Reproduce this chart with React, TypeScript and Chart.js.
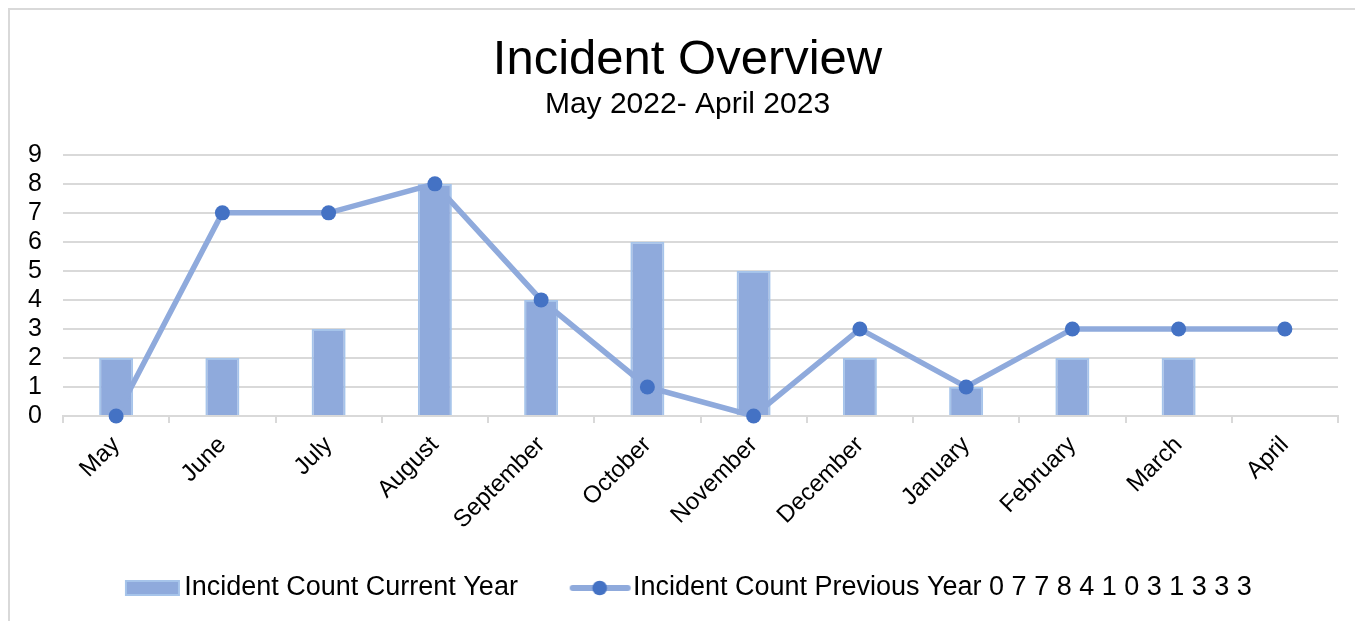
import React, { useEffect, useRef } from 'react';
import { Chart, registerables } from 'chart.js';

Chart.register(...registerables);

const months = ['May', 'June', 'July', 'August', 'September', 'October', 'November', 'December', 'January', 'February', 'March', 'April'];
const currentYear: (number | null)[] = [2, 2, 3, 8, 4, 6, 5, 2, 1, 2, 2, null];
const previousYear: number[] = [0, 7, 7, 8, 4, 1, 0, 3, 1, 3, 3, 3];
const yMin = 0;
const yMax = 9;
const yStep = 1;
const titleText = 'Incident Overview';
const subtitleText = 'May 2022- April 2023';
const currentName = 'Incident Count Current Year';
const previousName = 'Incident Count Previous Year 0 7 7 8 4 1 0 3 1 3 3 3';

const FONT = '"Liberation Sans", Arial, sans-serif';
const BAR_FILL = '#8faadc';
const BAR_BORDER = '#a6c4ea';
const LINE_COLOR = '#8faadc';
const POINT_COLOR = '#4472c4';
const GRID = '#d9d9d9';

function makeBarSymbol(): HTMLCanvasElement {
  const c = document.createElement('canvas');
  c.width = 68;
  c.height = 18;
  const ctx = c.getContext('2d')!;
  ctx.fillStyle = BAR_FILL;
  ctx.fillRect(13, 2, 53, 14);
  ctx.strokeStyle = BAR_BORDER;
  ctx.lineWidth = 2;
  ctx.strokeRect(13, 2, 53, 14);
  return c;
}

function makeLineSymbol(): HTMLCanvasElement {
  const c = document.createElement('canvas');
  c.width = 72;
  c.height = 18;
  const ctx = c.getContext('2d')!;
  ctx.strokeStyle = LINE_COLOR;
  ctx.lineWidth = 6;
  ctx.lineCap = 'round';
  ctx.beginPath();
  ctx.moveTo(13, 9);
  ctx.lineTo(68, 9);
  ctx.stroke();
  ctx.fillStyle = POINT_COLOR;
  ctx.beginPath();
  ctx.arc(40, 9, 7.3, 0, Math.PI * 2);
  ctx.fill();
  return c;
}

export default function App() {
  const canvasRef = useRef<HTMLCanvasElement | null>(null);

  useEffect(() => {
    if (!canvasRef.current) return;
    const barSym = makeBarSymbol();
    const lineSym = makeLineSymbol();
    const chart = new Chart(canvasRef.current, {
      type: 'bar',
      data: {
        labels: months,
        datasets: [
          {
            type: 'line',
            label: previousName,
            data: previousYear,
            borderColor: LINE_COLOR,
            backgroundColor: LINE_COLOR,
            borderWidth: 5.5,
            pointRadius: 7.5,
            pointBackgroundColor: POINT_COLOR,
            pointBorderColor: POINT_COLOR,
            pointBorderWidth: 0,
            tension: 0,
            order: 0,
            clip: false,
          } as any,
          {
            type: 'bar',
            label: currentName,
            data: currentYear,
            backgroundColor: BAR_FILL,
            borderColor: BAR_BORDER,
            borderWidth: 2,
            barPercentage: 0.32,
            categoryPercentage: 1,
            order: 1,
          } as any,
        ],
      },
      options: {
        responsive: false,
        animation: false,
        devicePixelRatio: 1,
        layout: { padding: { top: 0, left: 0, right: 0, bottom: 9.5 } },
        scales: {
          x: {
            offset: true,
            grid: {
              offset: true,
              drawOnChartArea: false,
              drawTicks: true,
              tickLength: 7,
              color: GRID,
              lineWidth: 2,
            },
            border: { display: true, color: GRID, width: 2 },
            ticks: {
              autoSkip: false,
              minRotation: 45,
              maxRotation: 45,
              padding: 8,
              color: '#000',
              font: { family: FONT, size: 24 },
            },
            afterFit: (s: any) => {
              s.height = 104.5;
              // let rotated labels run past the axis box, as in the reference
              s._computeLabelArea = () => undefined;
            },
          },
          y: {
            position: 'left',
            min: yMin,
            max: yMax,
            ticks: {
              stepSize: yStep,
              autoSkip: false,
              padding: 21,
              color: '#000',
              font: { family: FONT, size: 25 },
            },
            grid: { color: GRID, lineWidth: 2, drawTicks: false },
            border: { display: false },
            afterFit: (s: any) => {
              s.width = 53;
            },
          },
          yRight: {
            position: 'right',
            display: true,
            min: yMin,
            max: yMax,
            ticks: { display: false },
            grid: { display: false, drawOnChartArea: false, drawTicks: false },
            border: { display: false },
            afterFit: (s: any) => {
              s.width = 27;
            },
          },
        },
        plugins: {
          title: {
            display: true,
            text: titleText,
            color: '#000',
            font: { family: FONT, size: 49, weight: 'normal' },
            padding: { top: 21, bottom: 0 },
          },
          subtitle: {
            display: true,
            text: subtitleText,
            color: '#000',
            font: { family: FONT, size: 30, weight: 'normal', lineHeight: 1.0 },
            padding: { top: 0, bottom: 35 },
          },
          legend: {
            position: 'bottom',
            labels: {
              usePointStyle: true,
              pointStyleWidth: 47.5,
              boxWidth: 47.5,
              boxHeight: 27,
              padding: 54,
              color: '#000',
              font: { family: FONT, size: 27 },
              generateLabels: () => [
                {
                  text: currentName,
                  pointStyle: barSym,
                  fillStyle: BAR_FILL,
                  strokeStyle: BAR_BORDER,
                  lineWidth: 0,
                  hidden: false,
                  datasetIndex: 1,
                  fontColor: '#000',
                } as any,
                {
                  text: previousName,
                  pointStyle: lineSym,
                  fillStyle: POINT_COLOR,
                  strokeStyle: LINE_COLOR,
                  lineWidth: 0,
                  hidden: false,
                  datasetIndex: 0,
                  fontColor: '#000',
                } as any,
              ],
            },
          },
          tooltip: { enabled: false },
        },
      } as any,
    });
    return () => chart.destroy();
  }, []);

  return (
    <div
      style={{
        position: 'fixed',
        left: 8,
        top: 8,
        width: 1347,
        height: 613,
        borderTop: `2px solid ${GRID}`,
        borderLeft: `2px solid ${GRID}`,
        background: '#fff',
        boxSizing: 'border-box',
      }}
    >
      <canvas ref={canvasRef} width={1355} height={611} style={{ display: 'block' }} />
    </div>
  );
}
